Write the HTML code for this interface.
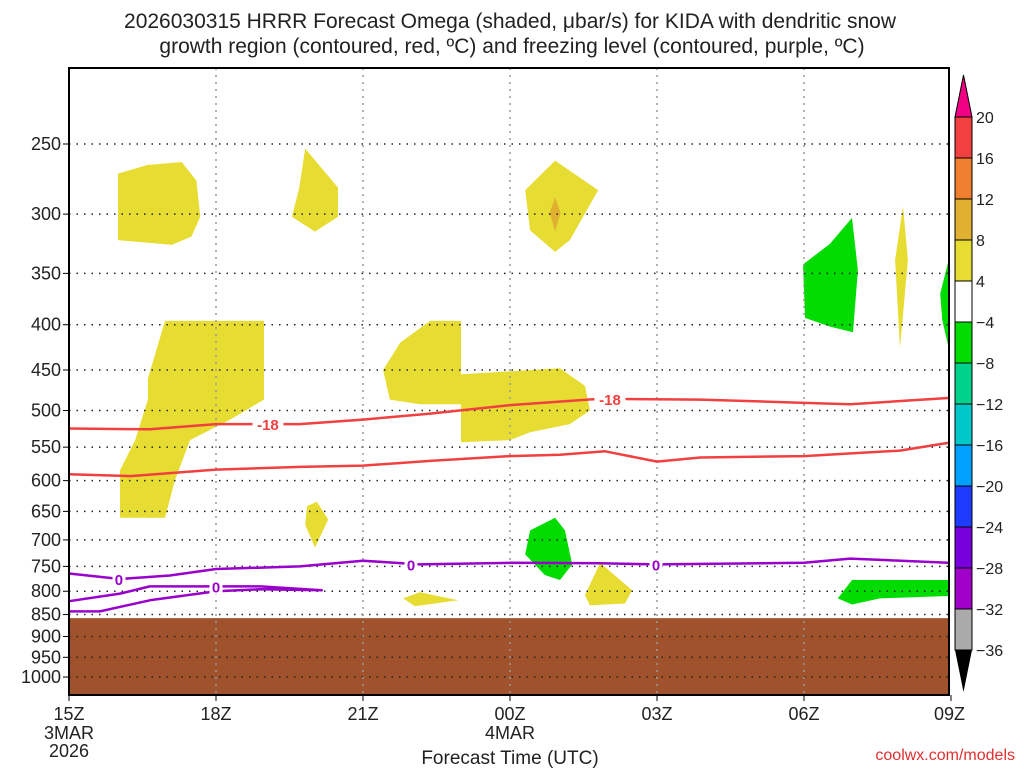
<!DOCTYPE html>
<html><head><meta charset="utf-8"><style>
body{margin:0;background:#fff;width:1024px;height:768px;overflow:hidden;font-family:"Liberation Sans",sans-serif}
svg text{font-family:"Liberation Sans",sans-serif}
</style></head><body>
<svg id="chart" width="1024" height="768" viewBox="0 0 1024 768" xmlns="http://www.w3.org/2000/svg">
<text x="510" y="28" font-size="21" text-anchor="middle" fill="#222">2026030315 HRRR Forecast Omega (shaded, μbar/s) for KIDA with dendritic snow</text>
<text x="512" y="53" font-size="21" text-anchor="middle" fill="#222">growth region (contoured, red, ºC) and freezing level (contoured, purple, ºC)</text>
<text x="510" y="764" font-size="19" text-anchor="middle" fill="#222">Forecast Time (UTC)</text>
<text x="1015" y="760" font-size="16" text-anchor="end" fill="#e03030">coolwx.com/models</text>
<g id="plot"></g>
</svg>
<script>
// ---- data ----
const hourTicks=[0,3,6,9,12,15,18];
const hourLabels=["15Z","18Z","21Z","00Z","03Z","06Z","09Z"];
const pressureTicks=[250,300,350,400,450,500,550,600,650,700,750,800,850,900,950,1000];
const groundPressure=858;
const cbarLevels=["20","16","12","8","4","−4","−8","−12","−16","−20","−24","−28","−32","−36"];
const cbarColors=["#f04040","#f08030","#e0b030","#e6dc32","#ffffff","#00dc00","#00d28c","#00c8c8","#00a0ff","#1e3cff","#7800dc","#a000c8","#aaaaaa"];
const yellowBlobs=[
 [[1.0,270],[1.6,264],[2.3,262],[2.6,275],[2.68,302],[2.5,318],[2.1,325],[1.0,321]],
 [[4.82,253],[5.49,280],[5.49,302],[5.02,314],[4.55,302],[4.7,280]],
 [[9.92,261],[10.8,282],[10.22,321],[9.92,331],[9.41,313],[9.31,282]],
 [[1.61,460],[1.96,396],[3.98,396],[3.98,486],[3.29,512],[2.47,540],[2.16,600],[1.96,661],[1.04,661],[1.04,584],[1.35,540],[1.61,486]],
 [[6.76,419],[7.37,396],[8.0,396],[8.0,455],[10.02,448],[10.53,469],[10.63,500],[10.22,518],[9.41,529],[9.0,540],[8.0,543],[8.0,492],[7.16,492],[6.55,486],[6.41,450]],
 [[5.06,634],[5.29,664],[5.02,714],[4.82,673],[4.86,641]],
 [[6.82,815],[7.16,802],[7.94,819],[7.06,832]],
 [[10.84,743],[11.49,798],[11.35,826],[10.63,830],[10.53,808]],
 [[17.02,294],[17.12,338],[16.96,425],[16.86,338]]
];
const orangeBlobs=[[[9.92,287],[10.03,299],[9.92,314],[9.81,299]]];
const greenBlobs=[
 [[9.92,661],[10.12,683],[10.27,746],[10.02,777],[9.71,767],[9.31,727],[9.41,683]],
 [[15.98,303],[16.1,347],[16.0,408],[15.53,402],[15.02,393],[14.98,342],[15.53,324]],
 [[17.94,340],[17.94,422],[17.82,395],[17.78,369]],
 [[15.98,777],[17.94,777],[17.94,810],[16.55,815],[15.98,828],[15.69,815]]
];
const dgzTopHours=[0,1.65,3,4.71,6,7.37,9,10.84,12.88,14.92,15.94,17.94];
const dgzTopP=[524,525,518,518,512,504,493,485,486,490,492,484];
const dgzBotHours=[0,1.25,3,4.71,6,7.37,9,10.02,10.94,12,12.88,15,16.96,17.94];
const dgzBotP=[590,593,583,579,577,570,563,561,556,571,565,563,555,544];
const frzHours=[0,1.04,2.06,3,4.71,6,7.16,9,10.84,12,15,15.94,17.94];
const frzP=[764,775,768,755,750,739,746,743,744,746,743,735,743];
const loopHours=[0,1.04,1.65,3,3.9,5.16,3.9,3,1.65,0.63,0];
const loopP=[821,805,790,790,790,798,796,800,819,843,843];
const labels=[[1.02,775,"0","#9900cc"],[3,790,"0","#9900cc"],[6.98,746,"0","#9900cc"],[11.98,746,"0","#9900cc"],[4.06,518,"-18","#f04040"],[11.04,485,"-18","#f04040"]];
// ---- axes ----
const X0=69,PXH=49,Y250=144,BPX=384.5;
const xs=h=>X0+h*PXH;
const ys=p=>Y250+BPX*Math.log(p/250);
const PT=68,PB=695,PR=949;
const NS="http://www.w3.org/2000/svg";
const g=document.getElementById('plot');
function mk(tag,attrs,parent){const e=document.createElementNS(NS,tag);for(const k in attrs)e.setAttribute(k,attrs[k]);(parent||g).appendChild(e);return e;}
function ptsOf(arr){return arr.map(q=>xs(q[0]).toFixed(1)+","+ys(q[1]).toFixed(1)).join(" ");}
function ptsHP(H,P){return H.map((h,i)=>xs(h).toFixed(1)+","+ys(P[i]).toFixed(1)).join(" ");}
// ground
let e=mk('rect',{x:X0,y:ys(groundPressure),width:PR-X0,height:PB-ys(groundPressure),fill:'#a0522d'});


// shading
yellowBlobs.forEach(b=>{const p=mk('polygon',{points:ptsOf(b),fill:'#e6dc32'});

});
orangeBlobs.forEach(b=>{const p=mk('polygon',{points:ptsOf(b),fill:'#e0b030'});

});
greenBlobs.forEach(b=>{const p=mk('polygon',{points:ptsOf(b),fill:'#00dc00'});

});
// grid
pressureTicks.forEach(p=>{const l=mk('line',{x1:X0,x2:PR,y1:ys(p),y2:ys(p),stroke:'#222','stroke-width':1.5,'stroke-dasharray':'1.5 6'});


const t=mk('line',{x1:X0-6,x2:X0,y1:ys(p),y2:ys(p),stroke:'#000'});


const tx=mk('text',{x:X0-8,y:ys(p)+6,'font-size':18,'text-anchor':'end',fill:'#222'});tx.textContent=p;

});
hourTicks.forEach((h,i)=>{if(i>0&&i<hourTicks.length-1){const l=mk('line',{x1:xs(h),x2:xs(h),y1:PT,y2:PB,stroke:'#999','stroke-width':1.5,'stroke-dasharray':'2 5'});

}
const t=mk('line',{x1:xs(h),x2:xs(h),y1:PB,y2:PB+6,stroke:'#000'});


const tx=mk('text',{x:Math.min(xs(h),PR+5),y:PB+25,'font-size':18,'text-anchor':i==hourTicks.length-1?'end':'middle',fill:'#222'});tx.textContent=hourLabels[i];
if(i==hourTicks.length-1)tx.setAttribute('x',PR+16);

});
[["3MAR",X0,739],["2026",X0,757],["4MAR",xs(9),739]].forEach(a=>{const tx=mk('text',{x:a[1],y:a[2],'font-size':18,'text-anchor':'middle',fill:'#222'});tx.textContent=a[0];

});
// contours
[[dgzTopHours,dgzTopP,'#f04040','dgz-top-contour'],[dgzBotHours,dgzBotP,'#f04040','dgz-bottom-contour'],[frzHours,frzP,'#9900cc','freezing-level-contour'],[loopHours,loopP,'#9900cc','freezing-level-loop']].forEach(c=>{
const l=mk('polyline',{points:ptsHP(c[0],c[1]),fill:'none',stroke:c[2],'stroke-width':2.5,'stroke-linejoin':'round'});

});
labels.forEach(a=>{const w=a[2].length*9+4;
const r=mk('rect',{x:xs(a[0])-w/2,y:ys(a[1])-8,width:w,height:16,fill:'#fff'});


const tx=mk('text',{x:xs(a[0]),y:ys(a[1])+6,'font-size':15,'font-weight':'bold','text-anchor':'middle',fill:a[3]});tx.textContent=a[2];

});
// frame
e=mk('rect',{x:X0,y:PT,width:PR-X0,height:PB-PT,fill:'none',stroke:'#000','stroke-width':2});


// colorbar
const CX=955,CW=17,CT=117,CH=41;
e=mk('polygon',{points:`${CX},${CT} ${CX+CW},${CT} ${CX+CW/2},${CT-42}`,fill:'#f00082',stroke:'#000'});


cbarColors.forEach((c,i)=>{const r=mk('rect',{x:CX,y:CT+i*CH,width:CW,height:CH,fill:c,stroke:'#000','stroke-width':1});

});
const CB=CT+cbarColors.length*CH;
e=mk('polygon',{points:`${CX},${CB} ${CX+CW},${CB} ${CX+CW/2},${CB+42}`,fill:'#000'});


cbarLevels.forEach((s,i)=>{const tx=mk('text',{x:CX+CW+4,y:CT+i*CH+6,'font-size':16,fill:'#222'});tx.textContent=s;

});
</script>
</body></html>
